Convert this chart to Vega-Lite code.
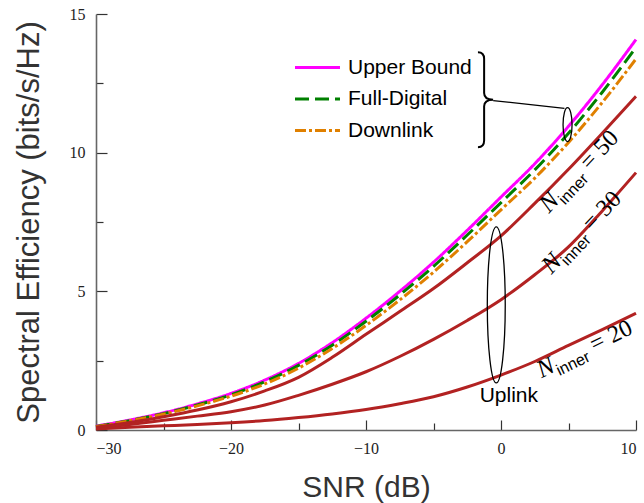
{
  "$schema": "https://vega.github.io/schema/vega-lite/v6.json",
  "width": 540,
  "height": 416,
  "autosize": {"type": "none"},
  "padding": {"left": 96, "top": 14, "right": 8, "bottom": 73},
  "background": "white",
  "config": {
    "view": {"stroke": null},
    "axis": {
      "grid": false,
      "domainColor": "#666666",
      "domainWidth": 1.6,
      "tickColor": "#333333",
      "tickWidth": 1.2,
      "labelFont": "Liberation Serif",
      "labelFontSize": 16,
      "labelColor": "#222222",
      "titleFont": "Liberation Sans",
      "titleFontSize": 30,
      "titleFontWeight": "normal",
      "titleColor": "#333333"
    }
  },
  "datasets": {
    "top": [
      {"snr": -30, "se": 0.14, "series": "Upper Bound"},
      {"snr": -27.5, "se": 0.36, "series": "Upper Bound"},
      {"snr": -25, "se": 0.62, "series": "Upper Bound"},
      {"snr": -22.5, "se": 0.94, "series": "Upper Bound"},
      {"snr": -20, "se": 1.32, "series": "Upper Bound"},
      {"snr": -17.5, "se": 1.8, "series": "Upper Bound"},
      {"snr": -15, "se": 2.4, "series": "Upper Bound"},
      {"snr": -12.5, "se": 3.15, "series": "Upper Bound"},
      {"snr": -10, "se": 4.03, "series": "Upper Bound"},
      {"snr": -7.5, "se": 5.0, "series": "Upper Bound"},
      {"snr": -5, "se": 6.05, "series": "Upper Bound"},
      {"snr": -2.5, "se": 7.2, "series": "Upper Bound"},
      {"snr": 0, "se": 8.4, "series": "Upper Bound"},
      {"snr": 2.5, "se": 9.6, "series": "Upper Bound"},
      {"snr": 5, "se": 10.95, "series": "Upper Bound"},
      {"snr": 7.5, "se": 12.45, "series": "Upper Bound"},
      {"snr": 10, "se": 14.08, "series": "Upper Bound"},
      {"snr": -30, "se": 0.13, "series": "Full-Digital"},
      {"snr": -27.5, "se": 0.34, "series": "Full-Digital"},
      {"snr": -25, "se": 0.59, "series": "Full-Digital"},
      {"snr": -22.5, "se": 0.9, "series": "Full-Digital"},
      {"snr": -20, "se": 1.27, "series": "Full-Digital"},
      {"snr": -17.5, "se": 1.74, "series": "Full-Digital"},
      {"snr": -15, "se": 2.33, "series": "Full-Digital"},
      {"snr": -12.5, "se": 3.06, "series": "Full-Digital"},
      {"snr": -10, "se": 3.92, "series": "Full-Digital"},
      {"snr": -7.5, "se": 4.87, "series": "Full-Digital"},
      {"snr": -5, "se": 5.9, "series": "Full-Digital"},
      {"snr": -2.5, "se": 7.03, "series": "Full-Digital"},
      {"snr": 0, "se": 8.2, "series": "Full-Digital"},
      {"snr": 2.5, "se": 9.38, "series": "Full-Digital"},
      {"snr": 5, "se": 10.7, "series": "Full-Digital"},
      {"snr": 7.5, "se": 12.18, "series": "Full-Digital"},
      {"snr": 10, "se": 13.8, "series": "Full-Digital"},
      {"snr": -30, "se": 0.12, "series": "Downlink"},
      {"snr": -27.5, "se": 0.33, "series": "Downlink"},
      {"snr": -25, "se": 0.57, "series": "Downlink"},
      {"snr": -22.5, "se": 0.87, "series": "Downlink"},
      {"snr": -20, "se": 1.22, "series": "Downlink"},
      {"snr": -17.5, "se": 1.66, "series": "Downlink"},
      {"snr": -15, "se": 2.23, "series": "Downlink"},
      {"snr": -12.5, "se": 2.94, "series": "Downlink"},
      {"snr": -10, "se": 3.77, "series": "Downlink"},
      {"snr": -7.5, "se": 4.69, "series": "Downlink"},
      {"snr": -5, "se": 5.69, "series": "Downlink"},
      {"snr": -2.5, "se": 6.79, "series": "Downlink"},
      {"snr": 0, "se": 7.94, "series": "Downlink"},
      {"snr": 2.5, "se": 9.08, "series": "Downlink"},
      {"snr": 5, "se": 10.37, "series": "Downlink"},
      {"snr": 7.5, "se": 11.81, "series": "Downlink"},
      {"snr": 10, "se": 13.38, "series": "Downlink"}
    ],
    "uplink": [
      {"snr": -30, "se": 0.1, "n": "50"},
      {"snr": -27.5, "se": 0.27, "n": "50"},
      {"snr": -25, "se": 0.48, "n": "50"},
      {"snr": -22.5, "se": 0.72, "n": "50"},
      {"snr": -20, "se": 1.02, "n": "50"},
      {"snr": -17.5, "se": 1.41, "n": "50"},
      {"snr": -15, "se": 1.9, "n": "50"},
      {"snr": -12.5, "se": 2.62, "n": "50"},
      {"snr": -10, "se": 3.45, "n": "50"},
      {"snr": -7.5, "se": 4.27, "n": "50"},
      {"snr": -5, "se": 5.1, "n": "50"},
      {"snr": -2.5, "se": 6.03, "n": "50"},
      {"snr": 0, "se": 7.0, "n": "50"},
      {"snr": 2.5, "se": 8.17, "n": "50"},
      {"snr": 5, "se": 9.4, "n": "50"},
      {"snr": 7.5, "se": 10.7, "n": "50"},
      {"snr": 10, "se": 12.03, "n": "50"},
      {"snr": -30, "se": 0.07, "n": "30"},
      {"snr": -27.5, "se": 0.2, "n": "30"},
      {"snr": -25, "se": 0.35, "n": "30"},
      {"snr": -22.5, "se": 0.5, "n": "30"},
      {"snr": -20, "se": 0.66, "n": "30"},
      {"snr": -17.5, "se": 0.9, "n": "30"},
      {"snr": -15, "se": 1.25, "n": "30"},
      {"snr": -12.5, "se": 1.65, "n": "30"},
      {"snr": -10, "se": 2.1, "n": "30"},
      {"snr": -7.5, "se": 2.65, "n": "30"},
      {"snr": -5, "se": 3.27, "n": "30"},
      {"snr": -2.5, "se": 3.95, "n": "30"},
      {"snr": 0, "se": 4.7, "n": "30"},
      {"snr": 2.5, "se": 5.6, "n": "30"},
      {"snr": 5, "se": 6.6, "n": "30"},
      {"snr": 7.5, "se": 7.9, "n": "30"},
      {"snr": 10, "se": 9.28, "n": "30"},
      {"snr": -30, "se": 0.04, "n": "20"},
      {"snr": -27.5, "se": 0.1, "n": "20"},
      {"snr": -25, "se": 0.15, "n": "20"},
      {"snr": -22.5, "se": 0.2, "n": "20"},
      {"snr": -20, "se": 0.26, "n": "20"},
      {"snr": -17.5, "se": 0.34, "n": "20"},
      {"snr": -15, "se": 0.45, "n": "20"},
      {"snr": -12.5, "se": 0.58, "n": "20"},
      {"snr": -10, "se": 0.74, "n": "20"},
      {"snr": -7.5, "se": 0.95, "n": "20"},
      {"snr": -5, "se": 1.2, "n": "20"},
      {"snr": -2.5, "se": 1.55, "n": "20"},
      {"snr": 0, "se": 1.98, "n": "20"},
      {"snr": 2.5, "se": 2.47, "n": "20"},
      {"snr": 5, "se": 3.05, "n": "20"},
      {"snr": 7.5, "se": 3.62, "n": "20"},
      {"snr": 10, "se": 4.21, "n": "20"}
    ],
    "brace": [{"snr": -1.25, "se": 11.91}],
    "connector": [{"snr": -0.58, "se": 11.88, "snr2": 4.7, "se2": 11.6}],
    "smallEllipse": [{"snr": 4.93, "se": 11.01}],
    "bigEllipse": [{"snr": -0.35, "se": 4.51}],
    "uplinkLabel": [{"snr": 0.58, "se": 1.01, "label": "Uplink"}],
    "nLabels": [
      {"snr": 3.55, "se": 7.8, "n": "50"},
      {"snr": 3.74, "se": 5.6, "n": "30"},
      {"snr": 3.0, "se": 1.87, "n": "20"}
    ]
  },
  "layer": [
    {
      "data": {"name": "top"},
      "mark": {"type": "line", "strokeWidth": 3, "interpolate": "monotone"},
      "encoding": {
        "x": {
          "field": "snr", "type": "quantitative",
          "scale": {"domain": [-30, 10], "nice": false, "zero": false},
          "axis": {
            "title": "SNR (dB)",
            "values": [-30, -25, -20, -15, -10, -5, 0, 5, 10],
            "labelExpr": "datum.value % 10 === 0 ? datum.label : ''",
            "tickSize": {"condition": {"test": "datum.value % 10 === 0", "value": -10}, "value": -7},
            "labelPadding": 20,
            "labelBaseline": "top",
            "titleY": 66,
            "titleBaseline": "alphabetic"
          }
        },
        "y": {
          "field": "se", "type": "quantitative",
          "scale": {"domain": [0, 15], "nice": false},
          "axis": {
            "title": "Spectral Efficiency (bits/s/Hz)",
            "values": [0, 2.5, 5, 7.5, 10, 12.5, 15],
            "labelExpr": "datum.value % 5 === 0 ? datum.label : ''",
            "tickSize": {"condition": {"test": "datum.value % 5 === 0", "value": -11}, "value": -7},
            "labelPadding": 22,
            "titleX": -58,
            "titleFontSize": 31,
            "titleBaseline": "alphabetic",
            "titleAngle": -90
          }
        },
        "color": {
          "field": "series", "type": "nominal",
          "scale": {"domain": ["Upper Bound", "Full-Digital", "Downlink"], "range": ["#ff00ff", "#008000", "#e08000"]},
          "legend": {
            "title": null, "orient": "none", "legendX": 211, "legendY": 43,
            "symbolType": "M-3,0H3", "symbolSize": 225, "symbolStrokeWidth": 3,
            "labelFont": "Liberation Sans", "labelFontSize": 21, "labelColor": "#000000",
            "labelOffset": 20, "rowPadding": 9.5
          }
        },
        "strokeDash": {
          "field": "series", "type": "nominal",
          "scale": {"domain": ["Upper Bound", "Full-Digital", "Downlink"], "range": [[1, 0], [14, 6], [11, 3, 3, 3]]},
          "legend": {
            "title": null, "orient": "none", "legendX": 211, "legendY": 43,
            "symbolType": "M-3,0H3", "symbolSize": 225, "symbolStrokeWidth": 3,
            "labelFont": "Liberation Sans", "labelFontSize": 21, "labelColor": "#000000",
            "labelOffset": 20, "rowPadding": 9.5
          }
        }
      }
    },
    {
      "data": {"name": "uplink"},
      "mark": {"type": "line", "strokeWidth": 3, "interpolate": "monotone", "color": "#b22222"},
      "encoding": {
        "x": {"field": "snr", "type": "quantitative"},
        "y": {"field": "se", "type": "quantitative"},
        "detail": {"field": "n", "type": "nominal"}
      }
    },
    {
      "data": {"name": "brace"},
      "mark": {"type": "point", "shape": "M-0.13,-1 Q0,-1 0,-0.86 L0,-0.14 Q0,0 0.19,0 Q0,0 0,0.14 L0,0.86 Q0,1 -0.13,1", "size": 9025, "filled": false, "stroke": "#000000", "strokeWidth": 2, "opacity": 1},
      "encoding": {
        "x": {"field": "snr", "type": "quantitative"},
        "y": {"field": "se", "type": "quantitative"}
      }
    },
    {
      "data": {"name": "connector"},
      "mark": {"type": "rule", "stroke": "#000000", "strokeWidth": 1.3},
      "encoding": {
        "x": {"field": "snr", "type": "quantitative"},
        "y": {"field": "se", "type": "quantitative"},
        "x2": {"field": "snr2"},
        "y2": {"field": "se2"}
      }
    },
    {
      "data": {"name": "smallEllipse"},
      "mark": {"type": "point", "shape": "M0,-1 C0.146,-1 0.265,-0.552 0.265,0 C0.265,0.552 0.146,1 0,1 C-0.146,1 -0.265,0.552 -0.265,0 C-0.265,-0.552 -0.146,-1 0,-1 Z", "size": 1156, "filled": false, "stroke": "#000000", "strokeWidth": 1.3, "opacity": 1},
      "encoding": {
        "x": {"field": "snr", "type": "quantitative"},
        "y": {"field": "se", "type": "quantitative"}
      }
    },
    {
      "data": {"name": "bigEllipse"},
      "mark": {"type": "point", "shape": "M0,-1 C0.0635,-1 0.115,-0.552 0.115,0 C0.115,0.552 0.0635,1 0,1 C-0.0635,1 -0.115,0.552 -0.115,0 C-0.115,-0.552 -0.0635,-1 0,-1 Z", "size": 24336, "filled": false, "stroke": "#000000", "strokeWidth": 1.3, "opacity": 1},
      "encoding": {
        "x": {"field": "snr", "type": "quantitative"},
        "y": {"field": "se", "type": "quantitative"}
      }
    },
    {
      "data": {"name": "uplinkLabel"},
      "mark": {"type": "text", "font": "Liberation Sans", "fontSize": 21, "align": "center", "baseline": "alphabetic", "color": "#000000"},
      "encoding": {
        "x": {"field": "snr", "type": "quantitative"},
        "y": {"field": "se", "type": "quantitative"},
        "text": {"field": "label"}
      }
    },
    {
      "data": {"name": "nLabels"},
      "mark": {"type": "text", "text": "N", "font": "Liberation Serif", "fontStyle": "italic", "fontSize": 25, "align": "left", "baseline": "alphabetic", "color": "#000000", "dx": 0, "angle": {"expr": "datum.n == '20' ? -26 : -46.5"}},
      "encoding": {
        "x": {"field": "snr", "type": "quantitative"},
        "y": {"field": "se", "type": "quantitative"}
      }
    },
    {
      "data": {"name": "nLabels"},
      "mark": {"type": "text", "text": "inner", "font": "Liberation Sans", "fontSize": 16, "align": "left", "baseline": "alphabetic", "color": "#000000", "dx": 17, "dy": 6, "angle": {"expr": "datum.n == '20' ? -26 : -46.5"}},
      "encoding": {
        "x": {"field": "snr", "type": "quantitative"},
        "y": {"field": "se", "type": "quantitative"}
      }
    },
    {
      "data": {"name": "nLabels"},
      "mark": {"type": "text", "text": "=", "font": "Liberation Serif", "fontSize": 24, "align": "left", "baseline": "alphabetic", "color": "#000000", "dx": 59, "angle": {"expr": "datum.n == '20' ? -26 : -46.5"}},
      "encoding": {
        "x": {"field": "snr", "type": "quantitative"},
        "y": {"field": "se", "type": "quantitative"}
      }
    },
    {
      "data": {"name": "nLabels"},
      "mark": {"type": "text", "font": "Liberation Serif", "fontSize": 24, "align": "left", "baseline": "alphabetic", "color": "#000000", "dx": 79, "angle": {"expr": "datum.n == '20' ? -26 : -46.5"}},
      "encoding": {
        "x": {"field": "snr", "type": "quantitative"},
        "y": {"field": "se", "type": "quantitative"},
        "text": {"field": "n"}
      }
    }
  ]
}
